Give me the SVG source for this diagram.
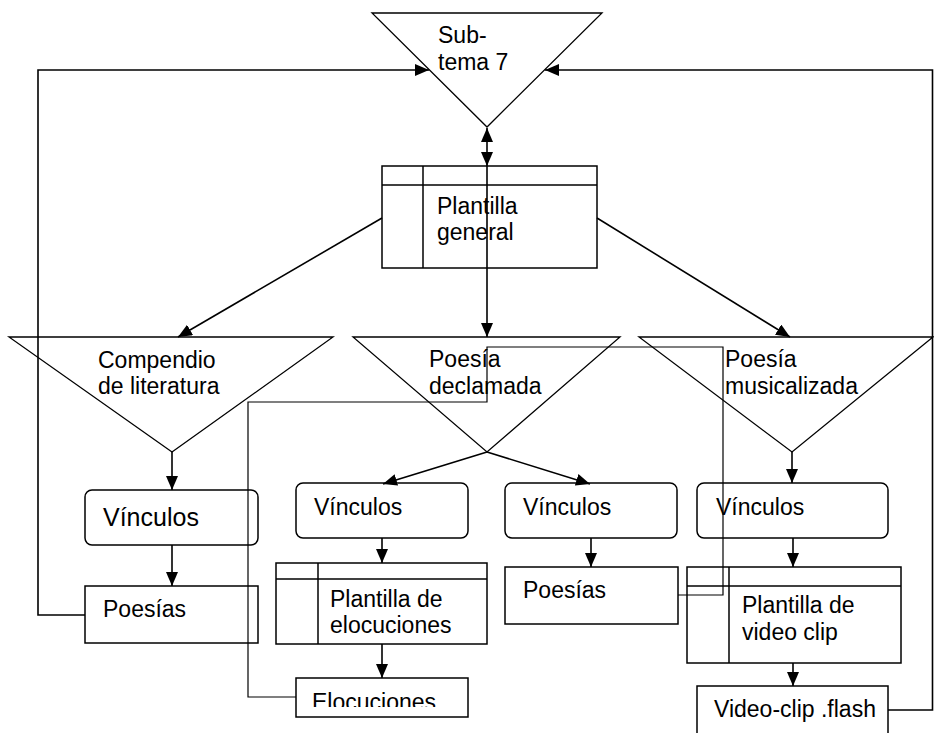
<svg xmlns="http://www.w3.org/2000/svg" width="934" height="733" viewBox="0 0 934 733">
  <style>
    .shape { fill: none; stroke: #000; stroke-width: 1.5; }
    .tri { fill: none; stroke: #000; stroke-width: 1.3; }
    .wire { fill: none; stroke: #000; stroke-width: 1.6; }
    .thin { fill: none; stroke: #000; stroke-width: 1.2; }
    text { font-family: "Liberation Sans", Arial, sans-serif; font-size: 23px; fill: #000; }
  </style>
  <defs>
    <marker id="arrow" markerUnits="userSpaceOnUse" markerWidth="14" markerHeight="12" refX="14" refY="6" orient="auto">
      <path d="M0,0 L14,6 L0,12 z" fill="#000"/>
    </marker>
    <marker id="arrowStart" markerUnits="userSpaceOnUse" markerWidth="14" markerHeight="12" refX="0" refY="6" orient="auto">
      <path d="M14,0 L0,6 L14,12 z" fill="#000"/>
    </marker>
    <clipPath id="clipElocuciones"><rect x="296" y="678" width="172" height="29"/></clipPath>
    <clipPath id="clipMusical"><rect x="639" y="337" width="295" height="60"/></clipPath>
  </defs>
  <rect width="934" height="733" fill="#fff"/>

  <!-- connectors -->
  <g id="connectors">
    <!-- sub-tema 7 <-> plantilla general, continuing down to poesía declamada -->
    <line class="wire" x1="487" y1="128" x2="487" y2="166" marker-start="url(#arrowStart)" marker-end="url(#arrow)"/>
    <line class="wire" x1="487" y1="166" x2="487" y2="337" marker-end="url(#arrow)"/>
    <!-- plantilla general to side sections -->
    <line class="wire" x1="382" y1="218" x2="178" y2="337" marker-end="url(#arrow)"/>
    <line class="wire" x1="597" y1="218" x2="790" y2="337" marker-end="url(#arrow)"/>
    <!-- sections to vínculos -->
    <line class="wire" x1="172" y1="452" x2="172" y2="490" marker-end="url(#arrow)"/>
    <line class="wire" x1="487" y1="452" x2="383" y2="484" marker-end="url(#arrow)"/>
    <line class="wire" x1="487" y1="452" x2="590" y2="484" marker-end="url(#arrow)"/>
    <line class="wire" x1="792" y1="452" x2="792" y2="483" marker-end="url(#arrow)"/>
    <!-- vínculos to contents -->
    <line class="wire" x1="172" y1="545" x2="172" y2="586" marker-end="url(#arrow)"/>
    <line class="wire" x1="382" y1="538" x2="382" y2="563" marker-end="url(#arrow)"/>
    <line class="wire" x1="382" y1="644" x2="382" y2="678" marker-end="url(#arrow)"/>
    <line class="wire" x1="591" y1="538" x2="591" y2="567" marker-end="url(#arrow)"/>
    <line class="wire" x1="793" y1="538" x2="793" y2="567" marker-end="url(#arrow)"/>
    <line class="wire" x1="793" y1="663" x2="793" y2="686" marker-end="url(#arrow)"/>
    <!-- returns to sub-tema 7 -->
    <polyline class="wire" points="85,615 38,615 38,70 429,70" marker-end="url(#arrow)"/>
    <polyline class="wire" points="888,710 932.5,710 932.5,70 545,70" marker-end="url(#arrow)"/>
    <!-- poesías to elocuciones link -->
    <polyline class="thin" points="678,595 723,595 723,347 487,347 487,402 248,402 248,697 296,697"/>
  </g>

  <!-- sub-tema 7 -->
  <g id="subtema7">
    <polygon class="tri" points="372,13 602,13 487,127"/>
    <text x="438" y="43">Sub-</text>
    <text x="438" y="70">tema 7</text>
  </g>

  <!-- plantilla general -->
  <g id="plantilla-general">
    <rect class="shape" x="382" y="166" width="215" height="102"/>
    <line class="shape" x1="382" y1="185" x2="597" y2="185"/>
    <line class="shape" x1="423" y1="166" x2="423" y2="268"/>
    <text x="437" y="214">Plantilla</text>
    <text x="437" y="240">general</text>
  </g>

  <!-- compendio de literatura -->
  <g id="compendio">
    <polygon class="tri" points="9,337 333,337 172,452"/>
    <text x="98" y="368">Compendio</text>
    <text x="98" y="394">de literatura</text>
  </g>

  <!-- poesía declamada -->
  <g id="poesia-declamada">
    <polygon class="tri" points="353,337 620,337 487,452"/>
    <text x="429" y="367">Poesía</text>
    <text x="429" y="394">declamada</text>
  </g>

  <!-- poesía musicalizada -->
  <g id="poesia-musicalizada">
    <polygon class="tri" points="639,337 933,337 792,452"/>
    <text x="725" y="367">Poesía</text>
    <text x="725" y="394" clip-path="url(#clipMusical)">musicalizada</text>
  </g>

  <!-- vínculos -->
  <g id="vinculos-1">
    <rect class="shape" x="85" y="490" width="173" height="55" rx="7"/>
    <text x="103" y="526" style="font-size:25px">Vínculos</text>
  </g>
  <g id="vinculos-2">
    <rect class="shape" x="296" y="483" width="172" height="55" rx="7"/>
    <text x="314" y="515">Vínculos</text>
  </g>
  <g id="vinculos-3">
    <rect class="shape" x="505" y="483" width="172" height="55" rx="7"/>
    <text x="523" y="515">Vínculos</text>
  </g>
  <g id="vinculos-4">
    <rect class="shape" x="697" y="483" width="191" height="55" rx="7"/>
    <text x="716" y="515">Vínculos</text>
  </g>

  <!-- poesías -->
  <g id="poesias-1">
    <rect class="shape" x="85" y="586" width="173" height="57"/>
    <text x="103" y="617">Poesías</text>
  </g>
  <g id="poesias-2">
    <rect class="shape" x="505" y="567" width="173" height="57"/>
    <text x="523" y="598">Poesías</text>
  </g>

  <!-- plantilla de elocuciones -->
  <g id="plantilla-elocuciones">
    <rect class="shape" x="276" y="563" width="211" height="81"/>
    <line class="shape" x1="276" y1="579" x2="487" y2="579"/>
    <line class="shape" x1="318" y1="563" x2="318" y2="644"/>
    <text x="330" y="607">Plantilla de</text>
    <text x="330" y="633">elocuciones</text>
  </g>

  <!-- elocuciones -->
  <g id="elocuciones">
    <rect class="shape" x="296" y="678" width="172" height="39"/>
    <text x="312" y="710" clip-path="url(#clipElocuciones)">Elocuciones</text>
  </g>

  <!-- plantilla de video clip -->
  <g id="plantilla-video">
    <rect class="shape" x="687" y="567" width="214" height="96"/>
    <line class="shape" x1="687" y1="586" x2="901" y2="586"/>
    <line class="shape" x1="729" y1="567" x2="729" y2="663"/>
    <text x="742" y="613">Plantilla de</text>
    <text x="742" y="640">video clip</text>
  </g>

  <!-- video-clip .flash -->
  <g id="video-clip">
    <rect class="shape" x="697" y="686" width="191" height="60"/>
    <text x="714" y="717">Video-clip .flash</text>
  </g>
</svg>
